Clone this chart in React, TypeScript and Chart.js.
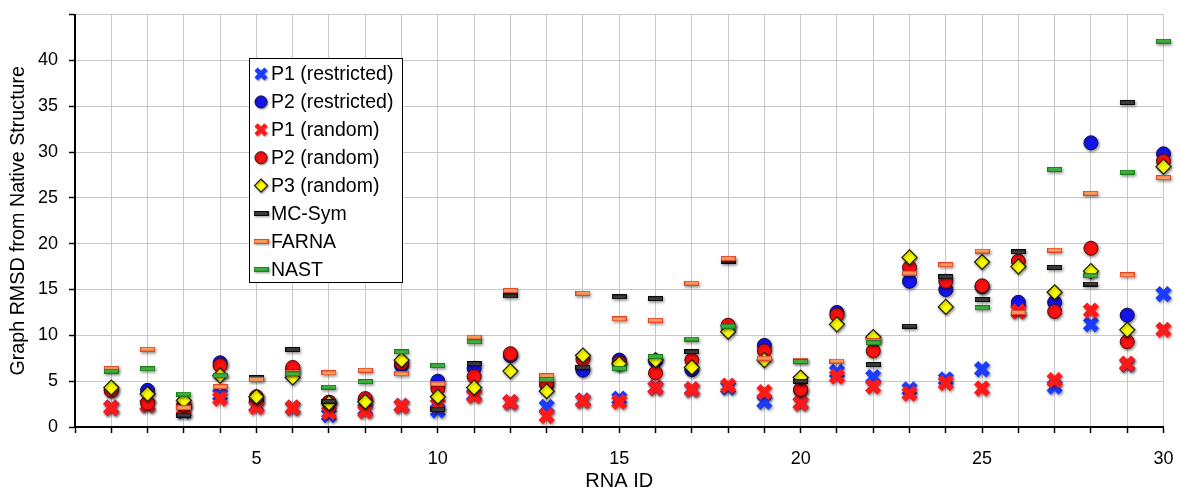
import React, { useEffect, useRef } from 'react';
import { Chart, registerables } from 'chart.js';
import { drawPoint } from 'chart.js/helpers';

Chart.register(...registerables);

const rnaIds = [1, 2, 3, 4, 5, 6, 7, 8, 9, 10, 11, 12, 13, 14, 15, 16, 17, 18, 19, 20, 21, 22, 23, 24, 25, 26, 27, 28, 29, 30];
const xTickLabels = [5, 10, 15, 20, 25, 30];
const yTickLabels = [0, 5, 10, 15, 20, 25, 30, 35, 40];

const seriesNames = ['P1 (restricted)', 'P2 (restricted)', 'P1 (random)', 'P2 (random)', 'P3 (random)', 'MC-Sym', 'FARNA', 'NAST'];

const p1Restricted = [2.1, 2.4, 1.7, 3.5, 2.3, 2.1, 1.3, 1.9, 2.3, 1.8, 3.5, 2.7, 2.2, 2.9, 3.1, 4.3, 4.1, 4.3, 2.75, 2.6, 6.0, 5.45, 4.1, 5.2, 6.3, 12.8, 4.4, 11.2, 6.8, 14.5];
const p2Restricted = [4.0, 4.0, 2.4, 7.0, 2.9, 6.3, 2.7, 3.0, 6.7, 5.0, 6.4, 7.8, 4.6, 6.2, 7.3, 7.2, 6.25, 11.0, 8.9, 4.0, 12.5, 9.6, 15.9, 15.0, 15.3, 13.6, 13.6, 31.0, 12.2, 29.8];
const p1Random = [2.1, 2.4, 2.0, 3.1, 2.2, 2.1, 1.6, 1.7, 2.3, 2.4, 3.4, 2.7, 1.2, 2.85, 2.75, 4.3, 4.1, 4.5, 3.8, 2.6, 5.5, 4.4, 3.65, 4.8, 4.2, 12.6, 5.1, 12.7, 6.9, 10.6];
const p2Random = [4.0, 2.6, 2.4, 6.7, 3.3, 6.5, 2.7, 3.1, 7.0, 4.2, 5.5, 8.0, 4.8, 7.4, 7.0, 5.9, 7.3, 11.1, 8.3, 4.1, 12.2, 8.3, 17.4, 15.9, 15.4, 18.1, 12.6, 19.5, 9.3, 29.0];
const p3Random = [4.3, 3.6, 2.9, 5.6, 3.3, 5.4, 2.6, 2.75, 7.3, 3.3, 4.3, 6.1, 3.9, 7.8, 6.9, 7.3, 6.5, 10.4, 7.3, 5.4, 11.2, 9.8, 18.5, 13.1, 18.0, 17.5, 14.7, 17.0, 10.6, 28.4];
const mcSym = [null, null, 1.3, null, 5.4, 8.45, 2.8, null, null, 1.9, 6.9, 14.3, null, 6.5, 14.2, 14.0, 8.2, 18.1, null, 5.0, null, 6.8, 11.0, 16.4, 13.9, 19.1, 17.4, 15.6, 35.4, null];
const farna = [6.4, 8.5, 2.1, 4.4, 5.2, 6.0, 5.9, 6.2, 5.8, 4.7, 9.8, 14.9, 5.6, 14.6, 11.8, 11.65, 15.7, 18.4, 7.5, 7.3, 7.2, 9.4, 16.8, 17.7, 19.2, 12.5, 19.3, 25.5, 16.6, 27.2];
const nast = [6.1, 6.35, 3.6, 5.6, null, 5.8, 4.35, 4.95, 8.2, 6.7, 9.3, null, 5.2, null, 6.4, 7.7, 9.6, 11.0, null, 7.15, null, 9.2, null, null, 13.0, null, 28.1, 16.5, 27.8, 42.1];

const FONT = '"Liberation Sans", Arial, Helvetica, sans-serif';

function makeDash(fill: string, border: string) {
  const c = document.createElement('canvas');
  c.width = 15;
  c.height = 5;
  const g = c.getContext('2d')!;
  g.fillStyle = border;
  g.fillRect(0, 0, 15, 5);
  g.fillStyle = fill;
  g.fillRect(1, 1, 13, 3);
  return c;
}

function toPoints(values: (number | null)[]) {
  return rnaIds
    .map((id, i) => ({ x: id, y: values[i] }))
    .filter((p) => p.y !== null);
}

const shadowPlugin = {
  id: 'markerShadow',
  beforeDatasetsDraw(chart: any) {
    const ctx = chart.ctx;
    ctx.save();
    ctx.shadowColor = 'rgba(0,0,0,0.45)';
    ctx.shadowBlur = 3;
    ctx.shadowOffsetX = 1;
    ctx.shadowOffsetY = 1.5;
  },
  afterDatasetsDraw(chart: any) {
    chart.ctx.restore();
  },
};

const legendPlugin = {
  id: 'boxLegend',
  afterDraw(chart: any) {
    const ctx = chart.ctx;
    ctx.save();
    const x0 = 249.5;
    const y0 = 58.5;
    const w = 153;
    const h = 224;
    ctx.fillStyle = '#fff';
    ctx.fillRect(x0, y0, w, h);
    ctx.strokeStyle = '#000';
    ctx.lineWidth = 1;
    ctx.strokeRect(x0, y0, w, h);
    chart.data.datasets.forEach((ds: any, i: number) => {
      const cy = 74 + i * 27.9;
      ctx.save();
      ctx.shadowColor = 'rgba(0,0,0,0.4)';
      ctx.shadowBlur = 2;
      ctx.shadowOffsetX = 1;
      ctx.shadowOffsetY = 1;
      ctx.fillStyle = ds.pointBackgroundColor;
      ctx.strokeStyle = ds.pointBorderColor;
      ctx.lineWidth = ds.legendBorderWidth;
      drawPoint(ctx, { pointStyle: ds.pointStyle, radius: ds.legendRadius, borderWidth: ds.legendBorderWidth, rotation: 0 } as any, 261, cy);
      ctx.restore();
      ctx.fillStyle = '#000';
      ctx.font = `19.5px ${FONT}`;
      ctx.textBaseline = 'middle';
      ctx.textAlign = 'left';
      ctx.fillText(ds.label, 271, cy + 1);
    });
    ctx.restore();
  },
};

export default function App() {
  const canvasRef = useRef<HTMLCanvasElement | null>(null);

  useEffect(() => {
    const canvas = canvasRef.current;
    if (!canvas) return;
    const blackDash = makeDash('#3a3a3a', '#0a0a0a');
    const orangeDash = makeDash('#f79a5a', '#e0452a');
    const greenDash = makeDash('#3fae3f', '#1e7d1e');

    const styles = [
      { style: 'crossRot', bg: '#1a3cff', border: '#1a3cff', bw: 6, r: 8.5, lr: 7, lbw: 4.5 },
      { style: 'circle', bg: '#1414f0', border: '#0a0a50', bw: 1, r: 7, lr: 6, lbw: 1 },
      { style: 'crossRot', bg: '#ff1a1a', border: '#ff1a1a', bw: 6, r: 8.5, lr: 7, lbw: 4.5 },
      { style: 'circle', bg: '#ff1010', border: '#500a0a', bw: 1, r: 7, lr: 6, lbw: 1 },
      { style: 'rectRot', bg: '#ffff00', border: '#1a1a00', bw: 1.2, r: 7.5, lr: 6.5, lbw: 1.2 },
      { style: blackDash, bg: '#333', border: '#000', bw: 0, r: 7, lr: 7, lbw: 0 },
      { style: orangeDash, bg: '#f79a5a', border: '#e0452a', bw: 0, r: 7, lr: 7, lbw: 0 },
      { style: greenDash, bg: '#3fae3f', border: '#1e7d1e', bw: 0, r: 7, lr: 7, lbw: 0 },
    ];
    const seriesValues = [p1Restricted, p2Restricted, p1Random, p2Random, p3Random, mcSym, farna, nast];

    const datasets = seriesNames.map((name, i) => ({
      label: name,
      data: toPoints(seriesValues[i]),
      showLine: false,
      pointStyle: styles[i].style,
      pointRadius: styles[i].r,
      pointHoverRadius: styles[i].r,
      pointBackgroundColor: styles[i].bg,
      pointBorderColor: styles[i].border,
      pointBorderWidth: styles[i].bw,
      backgroundColor: styles[i].bg,
      borderColor: styles[i].border,
      legendRadius: styles[i].lr,
      legendBorderWidth: styles[i].lbw,
      order: seriesNames.length - i,
      clip: false as any,
    }));

    const tickFont = { family: FONT, size: 18 };

    const chart = new Chart(canvas, {
      type: 'scatter',
      data: { datasets: datasets as any },
      plugins: [shadowPlugin, legendPlugin],
      options: {
        animation: false,
        responsive: false,
        maintainAspectRatio: false,
        layout: { padding: { top: 12, right: 13, left: 0, bottom: 0 } },
        plugins: {
          legend: { display: false },
          tooltip: { enabled: false },
        },
        scales: {
          x: {
            type: 'linear',
            min: 0,
            max: 30,
            afterBuildTicks: (scale: any) => {
              scale.ticks = Array.from({ length: 31 }, (_, i) => ({ value: i }));
            },
            ticks: {
              autoSkip: false,
              maxRotation: 0,
              padding: 15,
              color: '#000',
              font: tickFont,
              callback: (v: any) => (xTickLabels.includes(Number(v)) ? String(v) : ''),
            },
            grid: { color: '#c8c8c8', lineWidth: 1, tickColor: '#000', tickLength: 6, tickWidth: 1.5 },
            border: { color: '#000', width: 2 },
            title: {
              display: true,
              text: 'RNA ID',
              color: '#000',
              font: { family: FONT, size: 20, lineHeight: 1 },
              padding: { top: 0, bottom: 0 },
            },
            afterFit: (scale: any) => {
              scale.height = 64;
              scale.paddingLeft = 0;
              scale.paddingRight = 0;
            },
          },
          y: {
            min: 0,
            max: 45,
            afterBuildTicks: (scale: any) => {
              scale.ticks = [...yTickLabels, 45].map((v) => ({ value: v }));
            },
            ticks: {
              padding: 11,
              color: '#000',
              font: tickFont,
              callback: (v: any) => (yTickLabels.includes(Number(v)) ? String(v) : ''),
            },
            grid: { color: '#c8c8c8', lineWidth: 1, tickColor: '#000', tickLength: 6, tickWidth: 1.5 },
            border: { color: '#000', width: 2 },
            title: {
              display: true,
              text: 'Graph RMSD from Native Structure',
              color: '#000',
              font: { family: FONT, size: 19.7, lineHeight: 1.2 },
              padding: { top: 7, bottom: 0 },
            },
            afterFit: (scale: any) => {
              scale.width = 75;
              scale.paddingTop = 0;
              scale.paddingBottom = 0;
            },
          },
        },
      } as any,
    });
    return () => chart.destroy();
  }, []);

  return (
    <div style={{ position: 'fixed', left: 0, top: 0, width: 1178, height: 491, background: '#fff' }}>
      <canvas ref={canvasRef} width={1178} height={491} style={{ display: 'block', width: 1178, height: 491 }} />
    </div>
  );
}
